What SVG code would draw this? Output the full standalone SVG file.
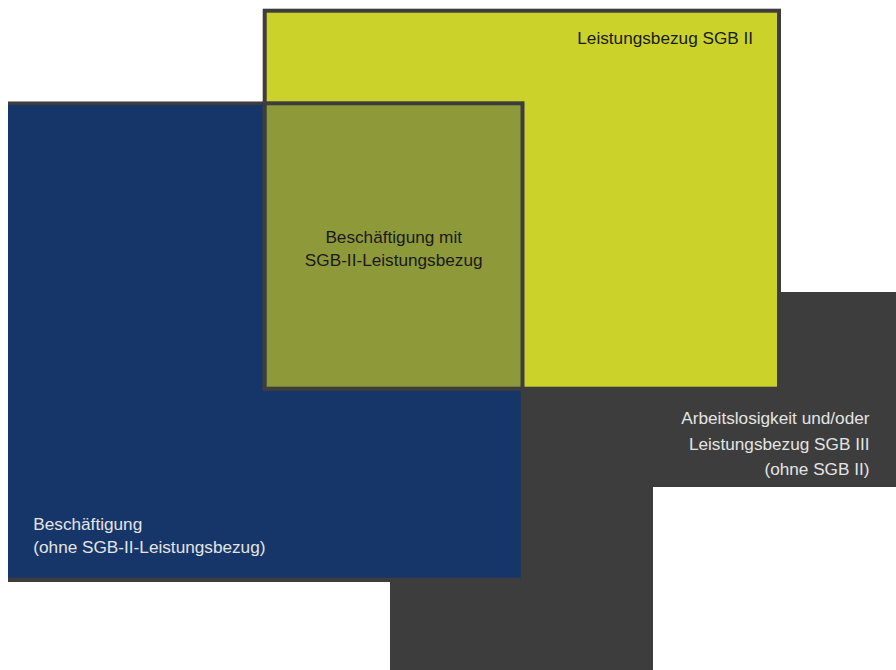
<svg xmlns="http://www.w3.org/2000/svg" width="896" height="670" viewBox="0 0 896 670">
  <style>
    .lbl { font-family: "Liberation Sans", Arial, sans-serif; font-size: 17.2px; }
    .dark { fill: #1a1a1a; }
    .light { fill: #e4e4e4; }
    .border { fill: #3d3d3d; }
    .framed { stroke: #3d3d3d; stroke-width: 4; }
  </style>
  <rect x="0" y="0" width="896" height="670" fill="#ffffff"/>

  <g id="arbeitslosigkeit">
    <polygon class="border" points="390,292 896,292 896,487 653,487 653,670 390,670"/>
    <text class="lbl light" text-anchor="end" x="869.5" y="424.3">Arbeitslosigkeit und/oder</text>
    <text class="lbl light" text-anchor="end" x="869.5" y="450">Leistungsbezug SGB III</text>
    <text class="lbl light" text-anchor="end" x="869.5" y="475.3">(ohne SGB II)</text>
  </g>

  <g id="beschaeftigung">
    <rect class="border" x="8" y="101.5" width="512.7" height="480.5"/>
    <rect x="8" y="105" width="512.7" height="472.7" fill="#16366a"/>
    <text class="lbl light" x="33.3" y="530">Beschäftigung</text>
    <text class="lbl light" x="33.3" y="553.3">(ohne SGB-II-Leistungsbezug)</text>
  </g>

  <g id="leistungsbezug-sgb2">
    <rect class="framed" x="264.7" y="10.7" width="514.3" height="378" fill="#cbd32b"/>
    <text class="lbl dark" x="577.3" y="43.5">Leistungsbezug SGB II</text>
  </g>

  <g id="beschaeftigung-mit-sgb2">
    <rect class="framed" x="264.7" y="103.3" width="257.8" height="285.4" fill="#8e993a"/>
    <text class="lbl dark" text-anchor="middle" x="393.7" y="242.7">Beschäftigung mit</text>
    <text class="lbl dark" text-anchor="middle" x="393.7" y="266.3">SGB-II-Leistungsbezug</text>
  </g>

  <g id="connectors"/>
</svg>
